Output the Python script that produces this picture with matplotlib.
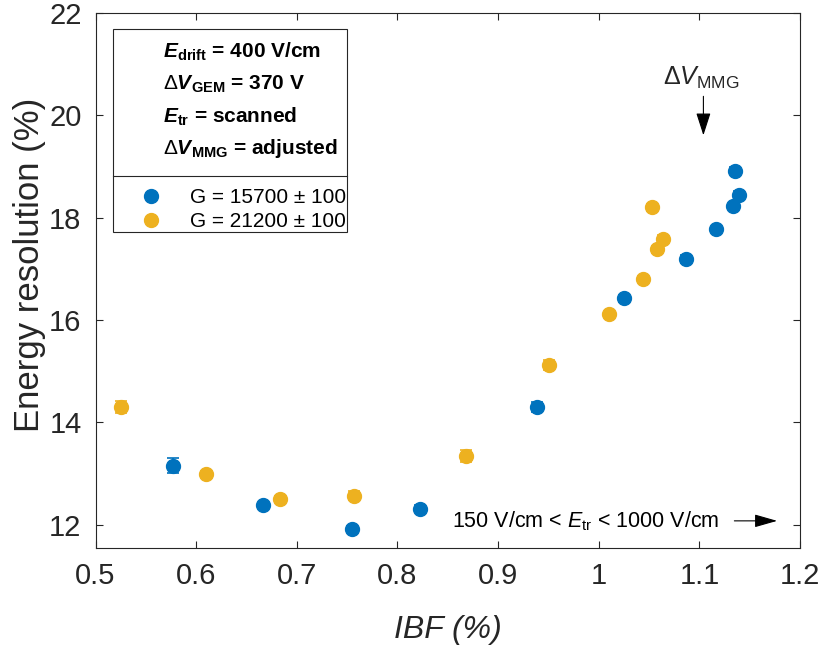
import matplotlib
matplotlib.use("Agg")
import matplotlib.pyplot as plt
from matplotlib.patches import Rectangle
from matplotlib.lines import Line2D

plt.rcParams["font.family"] = ["Liberation Sans", "DejaVu Sans"]
plt.rcParams["mathtext.fontset"] = "custom"
plt.rcParams["mathtext.rm"] = "Liberation Sans"
plt.rcParams["mathtext.it"] = "Liberation Sans:italic"
plt.rcParams["mathtext.bf"] = "Liberation Sans:bold"
plt.rcParams["mathtext.bfit"] = "Liberation Sans:bold:italic"

BLUE = "#0072BD"
YELLOW = "#EDB120"
GRAY = "#262626"

# G = 15700 +- 100
ibf_low = [0.577, 0.666, 0.755, 0.822, 0.939, 1.025, 1.087, 1.117, 1.133, 1.135, 1.139]
res_low = [13.16, 12.38, 11.93, 12.32, 14.30, 16.42, 17.19, 17.77, 18.22, 18.91, 18.44]
err_low = [0.15, 0.05, 0.05, 0.07, 0.10, 0.07, 0.07, 0.05, 0.05, 0.07, 0.07]

# G = 21200 +- 100
ibf_high = [0.525, 0.610, 0.683, 0.757, 0.868, 0.951, 1.010, 1.044, 1.053, 1.058, 1.064]
res_high = [14.30, 13.00, 12.51, 12.57, 13.34, 15.12, 16.11, 16.81, 18.20, 17.38, 17.59]
err_high = [0.12, 0.05, 0.05, 0.09, 0.12, 0.09, 0.05, 0.05, 0.07, 0.07, 0.07]

labels = ["G = 15700 ± 100", "G = 21200 ± 100"]
info_lines = [
    r"$\mathbfit{E}_{\mathbf{drift}}$ = 400 V/cm",
    r"$\Delta\mathbfit{V}_{\mathbf{GEM}}$ = 370 V",
    r"$\mathbfit{E}_{\mathbf{tr}}$ = scanned",
    r"$\Delta\mathbfit{V}_{\mathbf{MMG}}$ = adjusted",
]

fig = plt.figure(figsize=(8.24, 6.49), dpi=100)
ax = fig.add_axes([0.1159, 0.1556, 0.855, 0.825])

for x, y, e, c in [(ibf_low, res_low, err_low, BLUE), (ibf_high, res_high, err_high, YELLOW)]:
    ax.errorbar(x, y, yerr=e, fmt="o", color=c, ms=10, mec=c, elinewidth=1.2,
                capsize=4, capthick=1.2, zorder=3)

ax.set_xlim(0.5, 1.2)
ax.set_ylim(11.55, 22)
ax.set_xticks([0.5, 0.6, 0.7, 0.8, 0.9, 1.0, 1.1, 1.2])
ax.set_xticklabels(["0.5", "0.6", "0.7", "0.8", "0.9", "1", "1.1", "1.2"])
ax.set_yticks([12, 14, 16, 18, 20, 22])
ax.tick_params(direction="in", top=True, right=True, labelsize=21,
               colors=GRAY, length=5, width=0.8, pad=10)
for s in ax.spines.values():
    s.set_color(GRAY)
    s.set_linewidth(0.8)
ax.set_xlabel("IBF (%)", fontsize=23, style="italic", color=GRAY, labelpad=18)
ax.set_ylabel("Energy resolution (%)", fontsize=25, color=GRAY)
ax.yaxis.set_label_coords(-0.0705, 0.529)

# info box
bx0, by0 = 0.0248, 0.590
bw, bh = 0.332, 0.3794
ax.add_patch(Rectangle((bx0, by0), bw, bh, transform=ax.transAxes, fill=True,
                       facecolor="white", edgecolor=GRAY, lw=0.8, zorder=4))
ax.add_line(Line2D([bx0, bx0 + bw], [0.6948, 0.6948], transform=ax.transAxes,
                   color=GRAY, lw=0.8, zorder=5))
for i, t in enumerate(info_lines):
    ax.text(0.0958, 0.927 - i * 0.0605, t, transform=ax.transAxes,
            ha="left", va="center", fontsize=15, fontweight="bold",
            color="black", zorder=6)

handles = [Line2D([], [], ls="none", marker="o", ms=10, color=BLUE),
           Line2D([], [], ls="none", marker="o", ms=10, color=YELLOW)]
leg = ax.legend(handles, labels, loc="upper left", bbox_to_anchor=(0.046, 0.6955),
                frameon=False, fontsize=15, handletextpad=1.4,
                labelspacing=0.25, borderaxespad=0.2, handlelength=1.0)
leg.set_zorder(6)

# annotations
ax.annotate("", xy=(1.104, 19.55), xytext=(1.104, 20.42),
            arrowprops=dict(arrowstyle="-|>,head_length=1.4,head_width=0.45",
                            color="black", lw=0.8))
ax.text(1.102, 20.72, r"$\Delta\mathit{V}_{\mathrm{MMG}}$", ha="center", va="center",
        fontsize=18, color=GRAY)
ax.text(0.987, 12.08, r"150 V/cm < $\mathit{E}_{\mathrm{tr}}$ < 1000 V/cm",
        ha="center", va="center", fontsize=15.5, color="black")
ax.annotate("", xy=(1.18, 12.08), xytext=(1.132, 12.08),
            arrowprops=dict(arrowstyle="-|>,head_length=1.4,head_width=0.4",
                            color="black", lw=0.8))

fig.savefig("out.png", dpi=100)
